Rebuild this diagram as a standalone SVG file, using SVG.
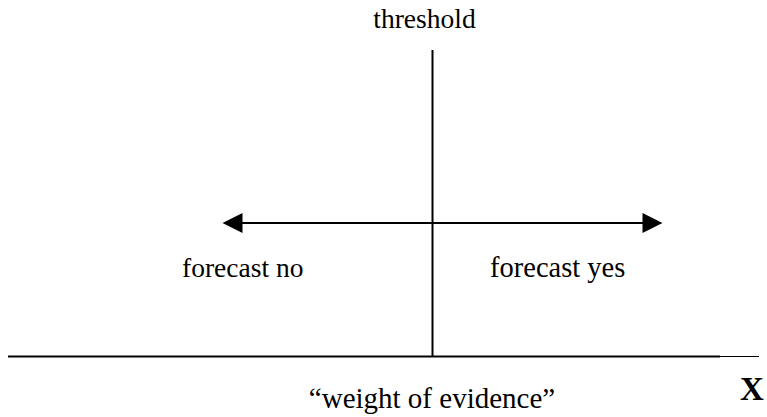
<svg xmlns="http://www.w3.org/2000/svg" width="767" height="417" viewBox="0 0 767 417">
<style>
.t{font-family:"Liberation Serif","Times New Roman",serif;font-size:27.5px;fill:#000}
.ln{stroke:#000;stroke-width:2;fill:none}
</style>
<rect width="767" height="417" fill="#fff"/>
<g id="connectors">
<line class="ln" x1="432.5" y1="50" x2="432.5" y2="357"/>
<line class="ln" x1="8" y1="356.5" x2="720" y2="356.5"/>
<line x1="720" y1="356.5" x2="759" y2="356.5" stroke="#000" stroke-width="1"/>
<line class="ln" x1="240" y1="223" x2="645" y2="223"/>
<polygon points="222.5,223 242.5,213 242.5,233" fill="#000"/>
<polygon points="662.5,223 642.5,213 642.5,233" fill="#000"/>
</g>
<g id="threshold"><text class="t" x="424.5" y="28" text-anchor="middle">threshold</text></g>
<g id="forecast-no"><text class="t" x="182" y="277">forecast no</text></g>
<g id="forecast-yes"><text class="t" x="490" y="277" style="font-size:28.5px">forecast yes</text></g>
<g id="weight"><text class="t" x="432" y="408" text-anchor="middle" style="font-size:29px">“weight of evidence”</text></g>
<g id="x-label"><text x="740" y="400" style="font-family:'Liberation Serif','Times New Roman',serif;font-weight:bold;font-size:33px">X</text></g>
</svg>
